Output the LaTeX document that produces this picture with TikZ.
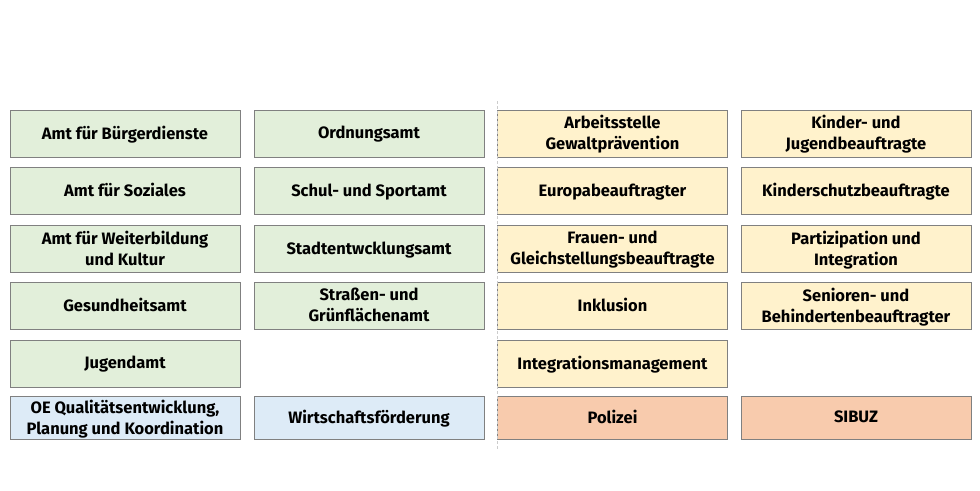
\documentclass[tikz,border=0pt]{standalone}
\usepackage{fontspec}
\setmainfont{Fira Sans}
\usepackage{xcolor}
\usepackage{tikz}
\usetikzlibrary{positioning}

\definecolor{amtgreen}{HTML}{E2EFDA}
\definecolor{stelleyellow}{HTML}{FFF2CC}
\definecolor{wirtblue}{HTML}{DDEBF7}
\definecolor{partnerorange}{HTML}{F8CBAD}
\definecolor{boxline}{HTML}{808080}

\begin{document}
\begin{tikzpicture}[x=1pt, y=-1pt,
    unit/.style={draw=boxline, line width=1pt, minimum width=230pt, minimum height=47pt,
        align=center, inner sep=1pt, text depth=2pt, font=\fontsize{16.5}{21}\selectfont\bfseries},
    amt/.style={unit, fill=amtgreen},
    stelle/.style={unit, fill=stelleyellow},
    wirt/.style={unit, fill=wirtblue, minimum height=43pt},
    partner/.style={unit, fill=partnerorange, minimum height=43pt}]
    \useasboundingbox (0,0) rectangle (980,490);

    % Aemter (left)
    \node[amt] (buerger) at (125,133.5) {Amt für Bürgerdienste};
    \node[amt] (soziales) at (125,191) {Amt für Soziales};
    \node[amt] (weiterbildung) at (125,249) {Amt für Weiterbildung\\und Kultur};
    \node[amt] (gesundheit) at (125,306) {Gesundheitsamt};
    \node[amt] (jugend) at (125,363.5) {Jugendamt};
    \node[wirt] (qualitaet) at (125,418) {OE Qualitätsentwicklung,\\Planung und Koordination};

    \node[amt] (ordnung) at (369,133.5) {Ordnungsamt};
    \node[amt] (schule) at (369,191) {Schul- und Sportamt};
    \node[amt] (stadt) at (369,249) {Stadtentwcklungsamt};
    \node[amt] (strassen) at (369,306) {Straßen- und\\Grünflächenamt};
    \node[wirt] (wirtschaft) at (369,418) {Wirtschaftsförderung};

    % Stabsstellen (right)
    \node[stelle] (gewalt) at (612.5,133.5) {Arbeitsstelle\\Gewaltprävention};
    \node[stelle] (europa) at (612.5,191) {Europabeauftragter};
    \node[stelle] (frauen) at (612.5,249) {Frauen- und\\Gleichstellungsbeauftragte};
    \node[stelle] (inklusion) at (612.5,306) {Inklusion};
    \node[stelle] (intmanagement) at (612.5,363.5) {Integrationsmanagement};
    \node[partner] (polizei) at (612.5,418) {Polizei};

    \node[stelle] (kinder) at (856,133.5) {Kinder- und\\Jugendbeauftragte};
    \node[stelle] (kinderschutz) at (856,191) {Kinderschutzbeauftragte};
    \node[stelle] (partizipation) at (856,249) {Partizipation und\\Integration};
    \node[stelle] (senioren) at (856,306) {Senioren- und\\Behindertenbeauftragter};
    \node[partner] (sibuz) at (856,418) {SIBUZ};

    % Trennlinie
    \coordinate (trennoben) at (497,101);
    \coordinate (trennunten) at (497,450);
    \draw[gray!40, dashed, dash pattern=on 3pt off 2pt, line width=1pt] (trennoben) -- (trennunten);
\end{tikzpicture}
\end{document}
